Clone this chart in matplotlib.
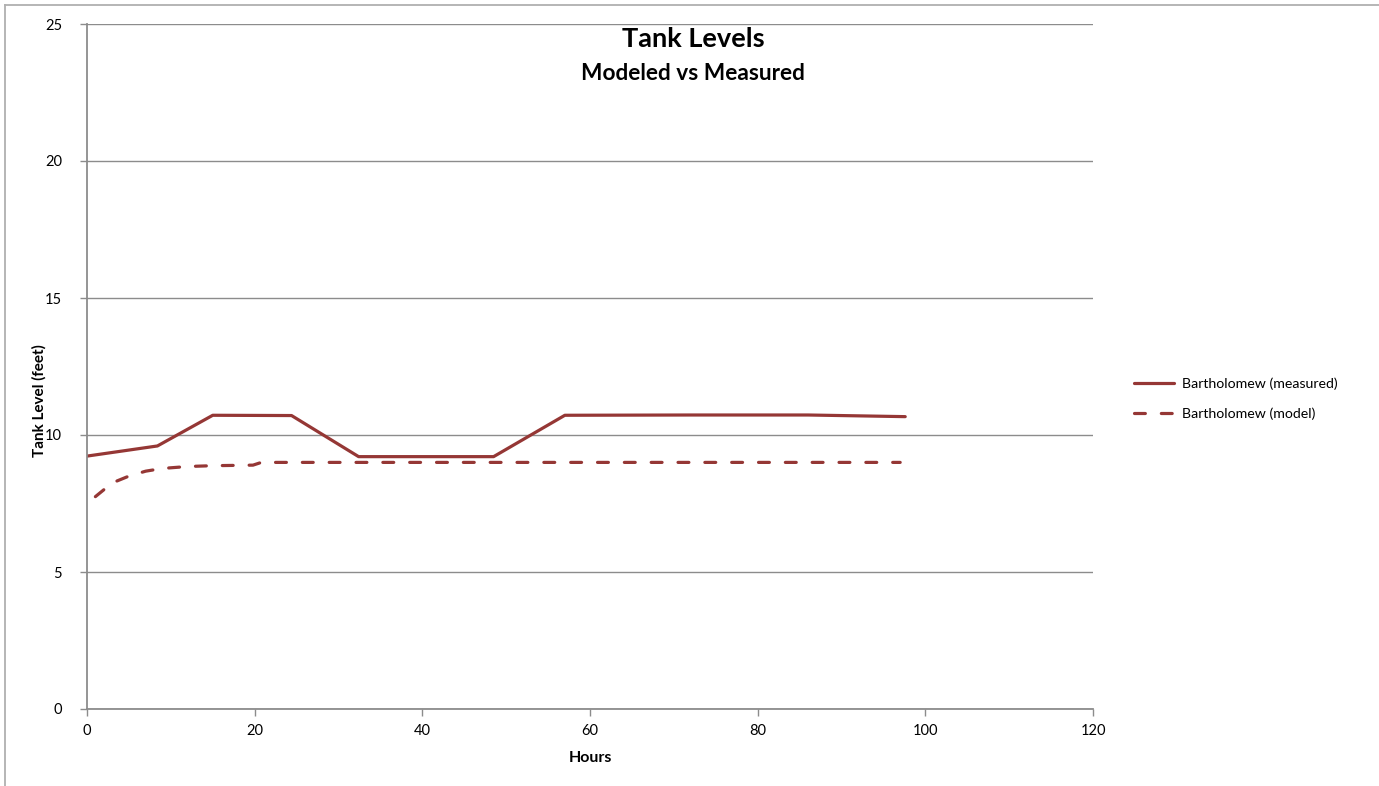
import matplotlib
matplotlib.use("Agg")
from matplotlib import pyplot as plt
from matplotlib.lines import Line2D

plt.rcParams['font.family'] = ['Lato', 'DejaVu Sans']

# measured tank level (feet) vs hours
hours_measured = [0, 8.4, 15.0, 24.4, 32.4, 48.5, 57.0, 72.0, 86.0, 97.6]
level_measured = [9.23, 9.60, 10.72, 10.71, 9.21, 9.21, 10.72, 10.73, 10.73, 10.67]

# modeled tank level (feet) vs hours
hours_model = [1, 3, 5, 7, 9, 12, 15, 19.8, 20.8, 97]
level_model = [7.75, 8.25, 8.5, 8.68, 8.78, 8.85, 8.88, 8.9, 9.0, 9.0]

xticks = [0, 20, 40, 60, 80, 100, 120]
yticks = [0, 5, 10, 15, 20, 25]

color = '#953735'
gray = '#8c8c8c'

fig = plt.figure(figsize=(13.79, 7.86), dpi=100)
ax = fig.add_axes([87 / 1379, 1 - 709 / 786, (1093 - 87) / 1379, (709 - 24) / 786])

ax.plot(hours_measured, level_measured, color=color, lw=2.3,
        solid_capstyle='round', solid_joinstyle='round', label='Bartholomew (measured)')
ax.plot(hours_model, level_model, color=color, lw=2.3, linestyle=(0, (3.4, 5.0)),
        dash_capstyle='round', label='Bartholomew (model)')

ax.set_xlim(0, 120)
ax.set_ylim(0, 25)
ax.set_xticks(xticks)
ax.set_yticks(yticks)
ax.yaxis.grid(True, color=gray, lw=1)
ax.set_axisbelow(True)
for s in ['top', 'right']:
    ax.spines[s].set_visible(False)
for s in ['left', 'bottom']:
    ax.spines[s].set_color(gray)
    ax.spines[s].set_linewidth(1.3)
ax.tick_params(axis='both', colors=gray, labelcolor='black', labelsize=10.5, length=5, width=1)
ax.tick_params(axis='y', pad=13)
ax.tick_params(axis='x', pad=6)

ax.set_xlabel('Hours', fontsize=11.5, fontweight='bold', labelpad=9)
ax.set_ylabel('Tank Level (feet)', fontsize=11, fontweight='bold')
ax.yaxis.set_label_coords(-0.040, 0.451)

fig.text(0.5025, 1 - 39 / 786, 'Tank Levels', ha='center', va='center', fontsize=19.5, fontweight='bold')
fig.text(0.5025, 1 - 73 / 786, 'Modeled vs Measured', ha='center', va='center', fontsize=16.3, fontweight='bold')

ax.legend(loc='center left', bbox_to_anchor=(1.028, 0.453), frameon=False,
          fontsize=10.2, handlelength=2.8, handletextpad=0.6, labelspacing=1.2)

# outer chart border
fig.add_artist(Line2D([5 / 1379, 5 / 1379], [0, 1 - 4.5 / 786], color='#b0b0b0', lw=1.3,
                      transform=fig.transFigure))
fig.add_artist(Line2D([5 / 1379, 1], [1 - 4.5 / 786, 1 - 4.5 / 786], color='#b0b0b0', lw=1.3,
                      transform=fig.transFigure))

fig.savefig('out.png', dpi=100)
